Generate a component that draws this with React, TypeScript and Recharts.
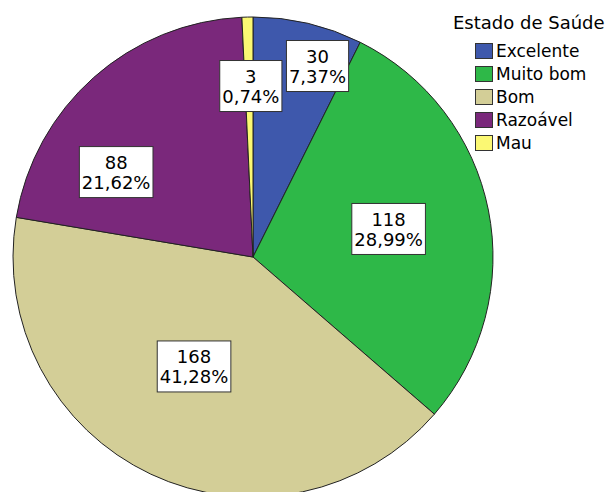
import { PieChart, Pie, Cell, Legend } from 'recharts';

const categories = ['Excelente', 'Muito bom', 'Bom', 'Razoável', 'Mau'];
const counts = [30, 118, 168, 88, 3];
const colors = ['#3E58AC', '#2EB848', '#D3CE97', '#7A287B', '#FBF873'];
const legendTitle = 'Estado de Saúde';

// label placement tweaks (angle offset in degrees, fraction of radius)
const labelAngleShift = [-5.4, 0.4, -3.1, 16.6, -0.6];
const labelRadiusFrac = [0.84, 0.577, 0.518, 0.671, 0.7125];

const data = categories.map((name, i) => ({ name, value: counts[i] }));

const FONT = '"DejaVu Sans", Verdana, sans-serif';
const RADIAN = Math.PI / 180;

function textWidth(s: string, size: number) {
  let w = 0;
  for (const ch of s) {
    if (ch === ',' || ch === '.') w += 0.318;
    else if (ch === '%') w += 0.95;
    else w += 0.636;
  }
  return w * size;
}

function renderLabel(props: any) {
  const { cx, cy, midAngle, outerRadius, index, value, percent } = props;
  const ang = (midAngle + labelAngleShift[index]) * RADIAN;
  const r = outerRadius * labelRadiusFrac[index];
  const x = cx + r * Math.cos(-ang);
  const y = cy + r * Math.sin(-ang);
  const pct = (percent * 100).toFixed(2).replace('.', ',') + '%';
  const line1 = String(value);
  const w = Math.max(textWidth(line1, 18), textWidth(pct, 18)) + 5;
  const h = 51;
  return (
    <g>
      <rect
        x={x - w / 2}
        y={y - h / 2}
        width={w}
        height={h}
        fill="#fff"
        stroke="#333"
        strokeWidth={1}
      />
      <text x={x} y={y - 3} textAnchor="middle" fontFamily={FONT} fontSize={18} fill="#000">
        {line1}
      </text>
      <text x={x} y={y + 17} textAnchor="middle" fontFamily={FONT} fontSize={18} fill="#000">
        {pct}
      </text>
    </g>
  );
}

function LegendBox() {
  return (
    <div style={{ fontFamily: FONT, color: '#000' }}>
      <div style={{ fontSize: 18, lineHeight: '22px', marginBottom: 5 }}>{legendTitle}</div>
      {categories.map((c, i) => (
        <div
          key={c}
          style={{ display: 'flex', alignItems: 'center', height: 23, marginLeft: 22 }}
        >
          <span
            style={{
              display: 'inline-block',
              width: 16,
              height: 14,
              background: colors[i],
              border: '1px solid #333',
              marginRight: 3,
            }}
          />
          <span style={{ fontSize: 17 }}>{c}</span>
        </div>
      ))}
    </div>
  );
}

export default function App() {
  return (
    <div style={{ position: 'absolute', left: 0, top: 0, width: 614, height: 492, background: '#fff' }}>
      <PieChart width={614} height={492} margin={{ top: 0, right: 0, bottom: 0, left: 0 }}>
        <Pie
          data={data}
          dataKey="value"
          nameKey="name"
          cx={253}
          cy={257}
          outerRadius={240}
          startAngle={90}
          endAngle={-270}
          stroke="#222"
          strokeWidth={1}
          label={renderLabel}
          labelLine={false}
          isAnimationActive={false}
        >
          {data.map((d, i) => (
            <Cell key={d.name} fill={colors[i]} />
          ))}
        </Pie>
        <Legend
          content={() => <LegendBox />}
          wrapperStyle={{ position: 'absolute', top: 12, left: 453, width: 160 }}
        />
      </PieChart>
    </div>
  );
}
